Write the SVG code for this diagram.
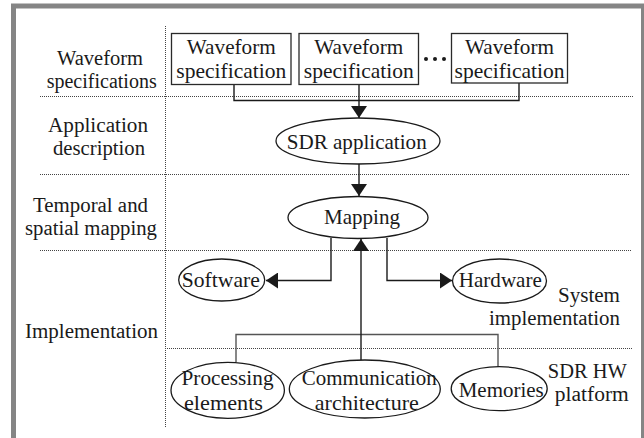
<svg xmlns="http://www.w3.org/2000/svg" width="644" height="438" viewBox="0 0 644 438">
  <style>
    text { font-family: 'Liberation Serif', 'Times New Roman', 'DejaVu Serif', serif; fill: #1a1a1a; text-anchor: middle; }
    .lbl { font-size: 20px; }
    .nd { font-size: 21px; }
    .end { text-anchor: end; }
    .box { fill: #fff; stroke: #2a2a2a; stroke-width: 1.3; }
    .ell { fill: #fff; stroke: #1a1a1a; stroke-width: 1.3; }
    .sep { stroke: #444; stroke-width: 1; stroke-dasharray: 1 1; fill: none; }
    .wire { stroke: #1a1a1a; stroke-width: 1.4; fill: none; }
    .bus { stroke: #555; stroke-width: 1.4; fill: none; }
  </style>
  <defs>
    <marker id="arrow" viewBox="0 0 12 16" refX="12" refY="8" markerWidth="12" markerHeight="16" markerUnits="userSpaceOnUse" orient="auto">
      <path d="M0,0 L12,8 L0,16 Z" fill="#1a1a1a"/>
    </marker>
  </defs>

  <!-- frame -->
  <rect x="13.5" y="6" width="630" height="440" fill="#fff" stroke="#858585" stroke-width="5"/>

  <!-- layer separators -->
  <g id="separators">
    <line class="sep" x1="165.5" y1="26" x2="165.5" y2="427"/>
    <line class="sep" x1="40" y1="96.5" x2="633" y2="96.5"/>
    <line class="sep" x1="40" y1="174.5" x2="630" y2="174.5"/>
    <line class="sep" x1="40" y1="250.5" x2="632" y2="250.5"/>
    <line class="sep" x1="165" y1="348.5" x2="632" y2="348.5"/>
  </g>

  <!-- layer labels -->
  <g id="layer-labels" lengthAdjust="spacingAndGlyphs">
    <text class="lbl" x="100" y="65" textLength="86" lengthAdjust="spacingAndGlyphs">Waveform</text>
    <text class="lbl" x="101.7" y="88" textLength="110" lengthAdjust="spacingAndGlyphs">specifications</text>
    <text class="lbl" x="98" y="132" textLength="100" lengthAdjust="spacingAndGlyphs">Application</text>
    <text class="lbl" x="99" y="155" textLength="92" lengthAdjust="spacingAndGlyphs">description</text>
    <text class="lbl" x="90.5" y="212" textLength="115" lengthAdjust="spacingAndGlyphs">Temporal and</text>
    <text class="lbl" x="91" y="235" textLength="132" lengthAdjust="spacingAndGlyphs">spatial mapping</text>
    <text class="lbl" x="91.5" y="338" textLength="133" lengthAdjust="spacingAndGlyphs">Implementation</text>
    <text class="lbl end" x="620" y="302" textLength="62" lengthAdjust="spacingAndGlyphs">System</text>
    <text class="lbl end" x="620" y="325" textLength="131" lengthAdjust="spacingAndGlyphs">implementation</text>
    <text class="lbl" x="587.3" y="378" textLength="79" lengthAdjust="spacingAndGlyphs">SDR HW</text>
    <text class="lbl" x="591.8" y="401" textLength="74" lengthAdjust="spacingAndGlyphs">platform</text>
  </g>

  <!-- connectors -->
  <g id="connectors">
    <path class="wire" d="M234,85 V100.5 H519 V83"/>
    <path class="wire" d="M359,85 V118" marker-end="url(#arrow)"/>
    <path class="wire" d="M359,164 V196" marker-end="url(#arrow)"/>
    <path class="wire" d="M331,238 V280.5 H266" marker-end="url(#arrow)"/>
    <path class="wire" d="M387,238 V280.5 H452" marker-end="url(#arrow)"/>
    <path class="bus" d="M236,362 V334.5 H498 V367"/>
    <path class="wire" d="M361,360 V239" marker-end="url(#arrow)"/>
  </g>

  <!-- waveform specifications -->
  <g id="spec1">
    <rect class="box" x="171.5" y="33.5" width="119.5" height="51"/>
    <text class="nd" x="231.3" y="53.5" textLength="89" lengthAdjust="spacingAndGlyphs">Waveform</text>
    <text class="nd" x="231.3" y="77.5" textLength="110" lengthAdjust="spacingAndGlyphs">specification</text>
  </g>
  <g id="spec2">
    <rect class="box" x="299" y="33.5" width="119.5" height="51"/>
    <text class="nd" x="358.8" y="53.5" textLength="89" lengthAdjust="spacingAndGlyphs">Waveform</text>
    <text class="nd" x="358.8" y="77.5" textLength="110" lengthAdjust="spacingAndGlyphs">specification</text>
  </g>
  <g id="ellipsis">
    <circle cx="426" cy="59" r="2" fill="#1a1a1a"/>
    <circle cx="435" cy="59" r="2" fill="#1a1a1a"/>
    <circle cx="444" cy="59" r="2" fill="#1a1a1a"/>
  </g>
  <g id="spec3">
    <rect class="box" x="451.5" y="33.5" width="116" height="49.5"/>
    <text class="nd" x="509.5" y="53.5" textLength="89" lengthAdjust="spacingAndGlyphs">Waveform</text>
    <text class="nd" x="509.5" y="77.5" textLength="110" lengthAdjust="spacingAndGlyphs">specification</text>
  </g>

  <!-- application -->
  <g id="sdr-application">
    <ellipse class="ell" cx="358" cy="141" rx="82" ry="23"/>
    <text class="nd" x="356.7" y="148.5" textLength="140" lengthAdjust="spacingAndGlyphs">SDR application</text>
  </g>

  <!-- mapping -->
  <g id="mapping">
    <ellipse class="ell" cx="358" cy="217.5" rx="70" ry="21"/>
    <text class="nd" x="362" y="223.5" textLength="76" lengthAdjust="spacingAndGlyphs">Mapping</text>
  </g>

  <!-- implementation -->
  <g id="software">
    <ellipse class="ell" cx="221.7" cy="280" rx="43" ry="21"/>
    <text class="nd" x="220.8" y="287" textLength="78" lengthAdjust="spacingAndGlyphs">Software</text>
  </g>
  <g id="hardware">
    <ellipse class="ell" cx="499.5" cy="281" rx="47" ry="22"/>
    <text class="nd" x="500.3" y="287" textLength="83" lengthAdjust="spacingAndGlyphs">Hardware</text>
  </g>

  <!-- hardware platform -->
  <g id="processing-elements">
    <ellipse class="ell" cx="227.7" cy="390.3" rx="56.7" ry="28"/>
    <text class="nd" x="227.5" y="385" textLength="92" lengthAdjust="spacingAndGlyphs">Processing</text>
    <text class="nd" x="223.5" y="409.5" textLength="79" lengthAdjust="spacingAndGlyphs">elements</text>
  </g>
  <g id="communication-architecture">
    <ellipse class="ell" cx="364.8" cy="389" rx="75.5" ry="29"/>
    <text class="nd" x="369.3" y="385" textLength="135" lengthAdjust="spacingAndGlyphs">Communication</text>
    <text class="nd" x="366.8" y="409.5" textLength="104" lengthAdjust="spacingAndGlyphs">architecture</text>
  </g>
  <g id="memories">
    <ellipse class="ell" cx="499.2" cy="388.7" rx="48" ry="22"/>
    <text class="nd" x="501.2" y="397" textLength="85" lengthAdjust="spacingAndGlyphs">Memories</text>
  </g>
</svg>
